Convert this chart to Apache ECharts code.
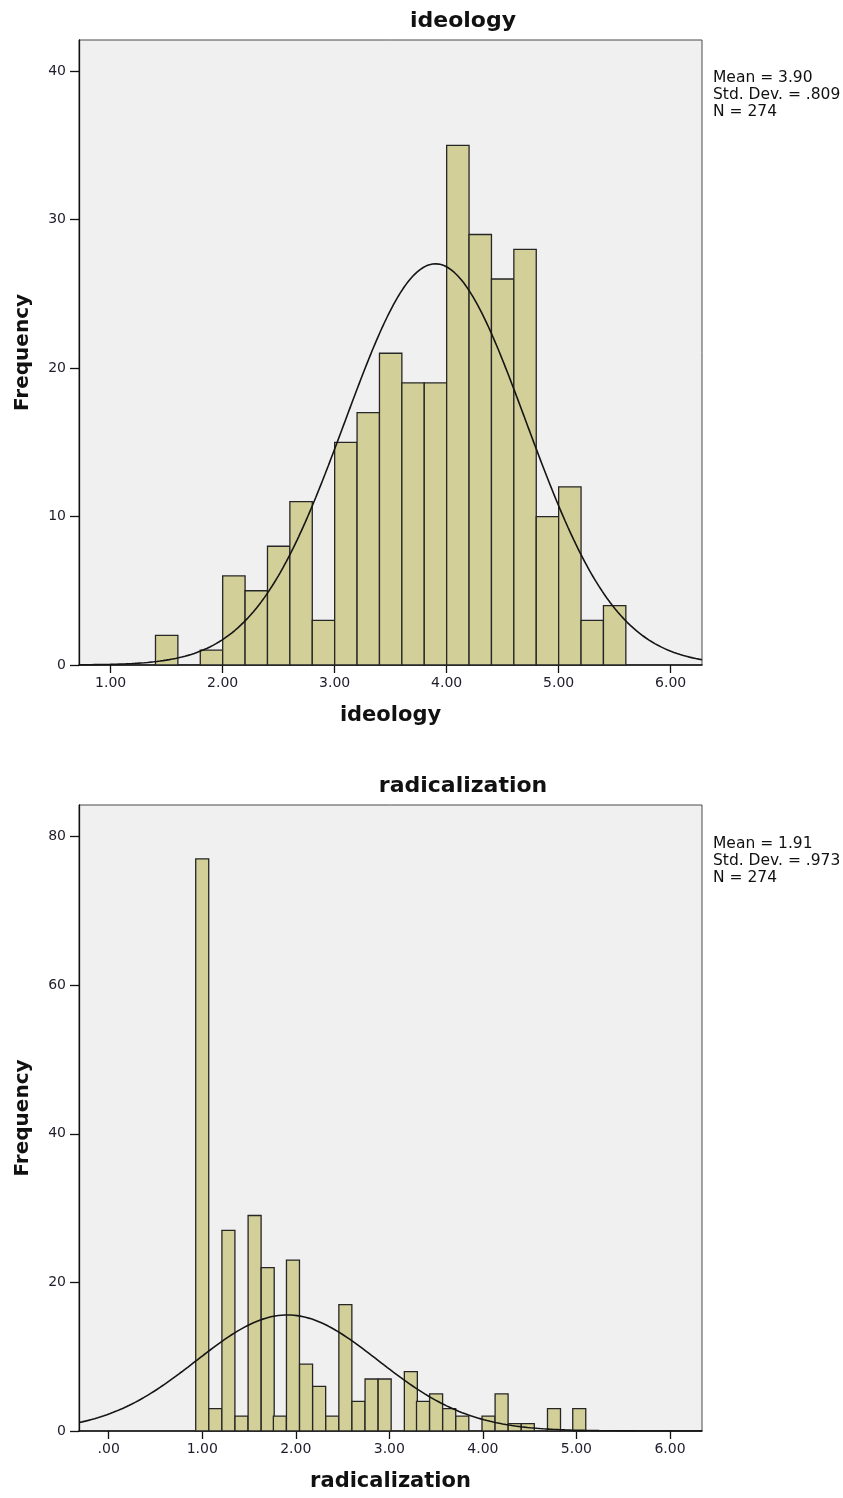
<!DOCTYPE html>
<html>
<head>
<meta charset="utf-8">
<script src="https://cdn.jsdelivr.net/npm/echarts@6/dist/echarts.min.js"></script>
<style>
  html, body { margin: 0; padding: 0; background: #ffffff; }
  #chart { width: 843px; height: 1498px; }
</style>
</head>
<body>
<div id="chart"></div>
<script>
// ---------- ideology histogram ----------
const ideologyBinCenters = [1.5, 1.7, 1.9, 2.1, 2.3, 2.5, 2.7, 2.9, 3.1, 3.3, 3.5, 3.7, 3.9, 4.1, 4.3, 4.5, 4.7, 4.9, 5.1, 5.3, 5.5];
const ideologyCounts     = [2,   0,   1,   6,   5,   8,   11,  3,   15,  17,  21,  19,  19,  35,  29,  26,  28,  10,  12,  3,   4];
const ideologyBinWidth = 0.2;
const ideologyMean = 3.90;
const ideologySD = 0.809;
const ideologyN = 274;
const ideologyXTicks = [1, 2, 3, 4, 5, 6];
const ideologyYTicks = [0, 10, 20, 30, 40];

// ---------- radicalization histogram ----------
const radicalizationBinCenters = [1.00, 1.14, 1.28, 1.42, 1.56, 1.70, 1.83, 1.97, 2.11, 2.25, 2.39, 2.53, 2.67, 2.81, 2.95,
                                  3.09, 3.23, 3.36, 3.50, 3.64, 3.78, 3.92, 4.06, 4.20, 4.34, 4.48, 4.62, 4.76, 4.89, 5.03];
const radicalizationCounts     = [77, 3, 27, 2, 29, 22, 2, 23, 9, 6, 2, 17, 4, 7, 7,
                                  0, 8, 4, 5, 3, 2, 0, 2, 5, 1, 1, 0, 3, 0, 3];
const radicalizationBinWidth = 0.139;
const radicalizationMean = 1.91;
const radicalizationSD = 0.973;
const radicalizationN = 274;
const radicalizationXTicks = [0, 1, 2, 3, 4, 5, 6];
const radicalizationYTicks = [0, 20, 40, 60, 80];

// ---------- layout / style ----------
const FONT = 'DejaVu Sans';
const BAR_FILL = '#d3cf98';
const BAR_STROKE = '#262626';
const PLOT_BG = '#f0f0f0';

const topX = { min: 0.717, max: 6.28 };
const botX = { min: -0.317, max: 6.342 };

function fmtTick(v) {
  return v.toFixed(2).replace(/^0\./, '.');
}

function normalCurve(mean, sd, n, binW, xmin, xmax) {
  const pts = [];
  const steps = 400;
  for (let i = 0; i <= steps; i++) {
    const x = xmin + (xmax - xmin) * i / steps;
    const z = (x - mean) / sd;
    pts.push([x, n * binW * Math.exp(-0.5 * z * z) / (sd * Math.sqrt(2 * Math.PI))]);
  }
  return pts;
}

function makeBars(binWidth) {
  return function (params, api) {
    const c = api.value(0);
    const v = api.value(1);
    if (!v) return null;
    const p0 = api.coord([c - binWidth / 2, v]);
    const p1 = api.coord([c + binWidth / 2, 0]);
    return {
      type: 'rect',
      shape: { x: p0[0], y: p0[1], width: p1[0] - p0[0], height: p1[1] - p0[1] },
      style: { fill: BAR_FILL, stroke: BAR_STROKE, lineWidth: 1.3 }
    };
  };
}

function xAxisDef(idx, range, ticks, name) {
  return {
    type: 'value', gridIndex: idx, min: range.min, max: range.max,
    name: name, nameLocation: 'middle', nameGap: 40,
    nameTextStyle: { fontFamily: FONT, fontWeight: 'bold', fontSize: 21, color: '#111' },
    axisLine: { show: true, onZero: false, lineStyle: { color: '#111', width: 1.5 } },
    axisTick: { show: true, inside: false, length: 8, customValues: ticks, lineStyle: { color: '#111', width: 1.3 } },
    axisLabel: { show: true, customValues: ticks, formatter: fmtTick, margin: 11,
                 fontFamily: FONT, fontSize: 14, color: '#1d1d2b' },
    splitLine: { show: false }
  };
}

function yAxisDef(idx, max, ticks) {
  return {
    type: 'value', gridIndex: idx, min: 0, max: max,
    name: 'Frequency', nameLocation: 'middle', nameGap: 46,
    nameTextStyle: { fontFamily: FONT, fontWeight: 'bold', fontSize: 20, color: '#111' },
    axisLine: { show: true, onZero: false, lineStyle: { color: '#111', width: 1.3 } },
    axisTick: { show: true, inside: false, length: 9, customValues: ticks, lineStyle: { color: '#111', width: 1.3 } },
    axisLabel: { show: true, customValues: ticks, margin: 13,
                 fontFamily: FONT, fontSize: 14, color: '#1d1d2b' },
    splitLine: { show: false }
  };
}

function statsText(x, y, mean, sd, n) {
  return {
    type: 'text', left: x, top: y,
    style: {
      text: 'Mean = ' + mean.toFixed(2) + '\nStd. Dev. = ' + sd.toFixed(3).replace(/^0\./, '.') + '\nN = ' + n,
      fontFamily: FONT, fontSize: 15.5, lineHeight: 16.7, fill: '#111'
    }
  };
}

const chart = echarts.init(document.getElementById('chart'), null, { renderer: 'canvas' });

const option = {
  backgroundColor: '#ffffff',
  animation: false,
  grid: [
    { left: 79, top: 40, width: 623, height: 625, show: true, backgroundColor: PLOT_BG, borderColor: '#4a4a4a', borderWidth: 1 },
    { left: 79, top: 805, width: 623, height: 626, show: true, backgroundColor: PLOT_BG, borderColor: '#4a4a4a', borderWidth: 1 }
  ],
  xAxis: [
    xAxisDef(0, topX, ideologyXTicks, 'ideology'),
    xAxisDef(1, botX, radicalizationXTicks, 'radicalization')
  ],
  yAxis: [
    yAxisDef(0, 42.1, ideologyYTicks),
    yAxisDef(1, 84.25, radicalizationYTicks)
  ],
  graphic: [
    { type: 'text', x: 463, y: 21, style: { text: 'ideology', fontFamily: FONT, fontWeight: 'bold', fontSize: 22, fill: '#111', align: 'center', verticalAlign: 'middle' } },
    { type: 'text', x: 463, y: 786, style: { text: 'radicalization', fontFamily: FONT, fontWeight: 'bold', fontSize: 22, fill: '#111', align: 'center', verticalAlign: 'middle' } },
    statsText(713, 70, ideologyMean, ideologySD, ideologyN),
    statsText(713, 836, radicalizationMean, radicalizationSD, radicalizationN)
  ],
  series: [
    {
      type: 'custom', name: 'ideology', xAxisIndex: 0, yAxisIndex: 0,
      renderItem: makeBars(ideologyBinWidth),
      encode: { x: 0, y: 1 },
      data: ideologyBinCenters.map((c, i) => [c, ideologyCounts[i]]),
      z: 2
    },
    {
      type: 'line', name: 'ideology normal', xAxisIndex: 0, yAxisIndex: 0,
      data: normalCurve(ideologyMean, ideologySD, ideologyN, ideologyBinWidth, topX.min, topX.max),
      showSymbol: false, symbol: 'none', smooth: false,
      lineStyle: { color: '#151515', width: 1.6 }, z: 3
    },
    {
      type: 'custom', name: 'radicalization', xAxisIndex: 1, yAxisIndex: 1,
      renderItem: makeBars(radicalizationBinWidth),
      encode: { x: 0, y: 1 },
      data: radicalizationBinCenters.map((c, i) => [c, radicalizationCounts[i]]),
      z: 2
    },
    {
      type: 'line', name: 'radicalization normal', xAxisIndex: 1, yAxisIndex: 1,
      data: normalCurve(radicalizationMean, radicalizationSD, radicalizationN, radicalizationBinWidth, botX.min, botX.max),
      showSymbol: false, symbol: 'none', smooth: false,
      lineStyle: { color: '#151515', width: 1.6 }, z: 3
    }
  ]
};

chart.setOption(option);
</script>
</body>
</html>
